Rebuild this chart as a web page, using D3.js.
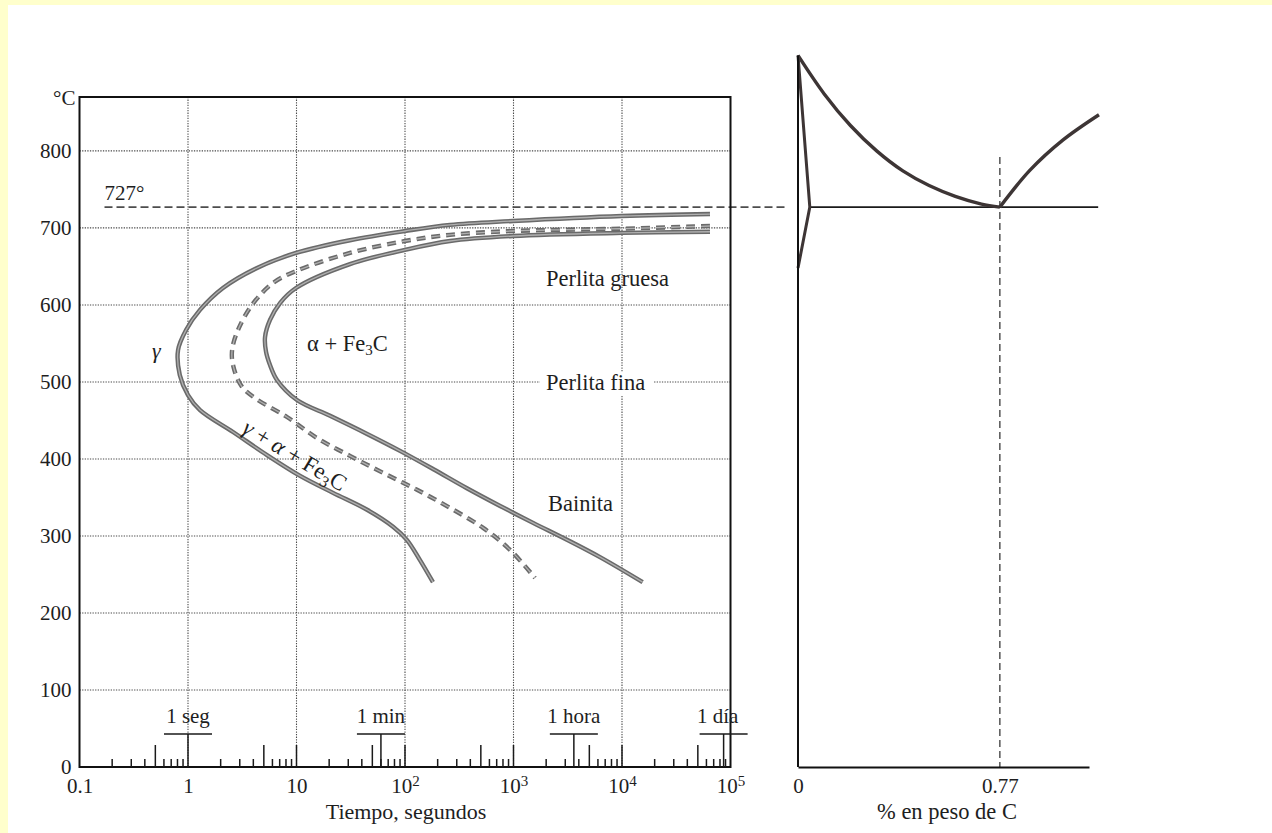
<!DOCTYPE html>
<html>
<head>
<meta charset="utf-8">
<script src="https://cdn.jsdelivr.net/npm/d3@7"></script>
<style>
  html, body { margin: 0; padding: 0; background: #ffffff; }
  svg { display: block; }
  text { font-family: "Liberation Serif", "DejaVu Serif", serif; fill: #1e1e1e; }
</style>
</head>
<body>
<svg id="chart" width="1272" height="833"></svg>
<script>
// ---------------- DATA ----------------
const timeTicks = [0.1, 1, 10, 100, 1000, 10000, 100000];
const timeTickBase = ["0.1", "1", "10", "10", "10", "10", "10"];
const timeTickExp = ["", "", "", "2", "3", "4", "5"];
const gridTimes = [1, 10, 100, 1000, 10000];
const decades = [0.1, 1, 10, 100, 1000, 10000];
const minorMultipliers = [2, 3, 4, 5, 6, 7, 8, 9];
const tempTicks = [0, 100, 200, 300, 400, 500, 600, 700, 800];
const gridTemps = [100, 200, 300, 400, 500, 600, 700, 800];
const markLabels = ["1 seg", "1 min", "1 hora", "1 día"];
const markTimes = [1, 60, 3600, 86400];
const eutectoidTemp = 727;

// TTT curves: [time (s), temperature (°C)]
const startCurve = [
  [64700, 718], [10000, 715.5], [989, 709], [260, 704], [100, 696], [31.1, 684],
  [9.9, 667.5], [4.33, 648], [2.1, 622], [1.29, 593.5], [0.96, 567.5], [0.81, 541.5],
  [0.84, 509], [1.0, 483], [1.29, 463.5], [2.6, 435], [5.35, 405], [10.8, 378],
  [21.7, 356], [44.7, 334], [77.6, 312], [104, 295], [137, 269], [181, 240]
];
const halfCurve = [
  [64700, 702.5], [10000, 699], [989, 696], [260, 691], [100, 683], [31.1, 667.5],
  [9.9, 644], [6.07, 628.5], [3.89, 600], [2.89, 567.5], [2.55, 541.5], [2.6, 522],
  [3.1, 495], [4.15, 479], [8.17, 454.5], [15.5, 427], [31.1, 404], [62.7, 382],
  [129, 360], [260, 336.5], [525, 310.5], [929, 282], [1578, 245.5]
];
const finishCurve = [
  [64700, 695], [10000, 693.5], [989, 689.5], [260, 683], [100, 671.5], [31.1, 653],
  [9.9, 622], [7.05, 602.5], [5.7, 580.5], [5.13, 558.5], [5.24, 539], [5.7, 522],
  [6.61, 502.5], [10.1, 476.5], [20.4, 456], [44.7, 432.5], [90, 410.5], [181, 387],
  [372, 362], [752, 339], [1514, 317], [3112, 295], [6266, 272.5], [15500, 240]
];

// Fe–C diagram: [wt % C, temperature (°C)]
const carbonTicks = [0, 0.77];
const carbonTickLabels = ["0", "0.77"];
const a3Curve = [
  [0, 924], [0.1, 874], [0.2, 833], [0.3, 800], [0.4, 774], [0.5, 755],
  [0.6, 741], [0.7, 731], [0.77, 727]
];
const acmCurve = [[0.77, 727], [0.885, 775], [1.01, 814], [1.148, 847]];
const alphaBoundary = [[0, 924], [0.045, 727], [0, 648]];
const eutectoidLine = [[0.045, 727], [1.145, 727]];
const eutectoidComp = 0.77;
const eutectoidDashTop = 792;

// ---------------- LAYOUT ----------------
const svg = d3.select("#chart");
svg.append("rect").attr("x", 0).attr("y", 0).attr("width", 1272).attr("height", 833).attr("fill", "#ffffcc");
svg.append("rect").attr("x", 8).attr("y", 5).attr("width", 1264).attr("height", 828).attr("fill", "#ffffff");

const x = d3.scaleLog().domain([0.1, 1e5]).range([79.5, 730.5]);
const y = d3.scaleLinear().domain([0, 870]).range([767, 97]);
const xR = d3.scaleLinear().domain([0, 1.11]).range([798, 1089]);

const plotL = x(0.1), plotR = x(1e5), plotT = y(870), plotB = y(0);

// grid
const grid = svg.append("g").attr("stroke", "#4a4a4a").attr("stroke-width", 1.1).attr("stroke-dasharray", "1.3,1.3");
grid.selectAll("line.h").data(gridTemps).join("line")
  .attr("x1", plotL).attr("x2", plotR).attr("y1", d => y(d)).attr("y2", d => y(d));
grid.selectAll("line.v").data(gridTimes).join("line")
  .attr("x1", d => x(d)).attr("x2", d => x(d)).attr("y1", plotT).attr("y2", plotB);

// 727 dashed line
svg.append("line")
  .attr("x1", x(0.17)).attr("x2", xR(-0.05))
  .attr("y1", y(eutectoidTemp)).attr("y2", y(eutectoidTemp))
  .attr("stroke", "#4d4d4d").attr("stroke-width", 1.6).attr("stroke-dasharray", "8,4");
svg.append("text").attr("x", x(0.17)).attr("y", y(eutectoidTemp) - 7)
  .attr("font-size", 21).text("727°");

// curves
const line = d3.line().x(d => x(d[0])).y(d => y(d[1])).curve(d3.curveCatmullRom.alpha(0.5));
function rope(data, dashed) {
  const g = svg.append("g").attr("fill", "none").attr("stroke-linecap", "butt");
  g.append("path").attr("d", line(data)).attr("stroke", "#6a6a6a").attr("stroke-width", 4.4)
    .attr("stroke-dasharray", dashed ? "9,6" : null);
  g.append("path").attr("d", line(data)).attr("stroke", "#b0b0b0").attr("stroke-width", 1.3)
    .attr("stroke-dasharray", dashed ? "9,6" : null);
}
rope(startCurve, false);
rope(halfCurve, true);
rope(finishCurve, false);

// frame
svg.append("rect").attr("x", plotL).attr("y", plotT).attr("width", plotR - plotL).attr("height", plotB - plotT)
  .attr("fill", "none").attr("stroke", "#111").attr("stroke-width", 2);

// left axis labels
const yAxis = svg.append("g").attr("transform", `translate(${plotL},0)`)
  .call(d3.axisLeft(y).tickValues(tempTicks).tickSize(0).tickPadding(8));
yAxis.select(".domain").remove();
yAxis.selectAll("text").attr("font-size", 21).attr("font-family", "Liberation Serif").attr("fill", "#1e1e1e");
svg.append("text").attr("x", plotL - 4).attr("y", plotT + 8).attr("text-anchor", "end")
  .attr("font-size", 21).text("°C");

// bottom axis labels
const xAxis = svg.append("g").attr("transform", `translate(0,${plotB})`)
  .call(d3.axisBottom(x).tickValues(timeTicks).tickSize(0).tickPadding(10).tickFormat(() => ""));
xAxis.select(".domain").remove();
xAxis.selectAll(".tick text").each(function(d, i) {
  const t = d3.select(this).attr("font-size", 21).attr("font-family", "Liberation Serif").attr("fill", "#1e1e1e").attr("dy", "0.75em");
  t.append("tspan").text(timeTickBase[i]);
  if (timeTickExp[i]) t.append("tspan").attr("dy", "-0.45em").attr("font-size", 15).text(timeTickExp[i]);
});
svg.append("text").attr("x", 406).attr("y", 819).attr("text-anchor", "middle")
  .attr("font-size", 22).text("Tiempo, segundos");

// minor ticks
const minor = [];
decades.forEach(dc => minorMultipliers.forEach(m => minor.push([dc * m, m === 5 ? 22 : 8])));
gridTimes.slice(1).forEach(t => minor.push([t, 22]));
svg.append("g").attr("stroke", "#1a1a1a").attr("stroke-width", 1.5)
  .selectAll("line").data(minor).join("line")
  .attr("x1", d => x(d[0])).attr("x2", d => x(d[0]))
  .attr("y1", plotB).attr("y2", d => plotB - d[1]);

// time marks (1 seg, 1 min, 1 hora, 1 día)
const marks = svg.append("g");
markTimes.forEach((t, i) => {
  const cx = x(t), barY = plotB - 33;
  marks.append("line").attr("x1", cx).attr("x2", cx).attr("y1", plotB).attr("y2", barY)
    .attr("stroke", "#1a1a1a").attr("stroke-width", 1.5);
  marks.append("line").attr("x1", cx - 24).attr("x2", cx + 24).attr("y1", barY).attr("y2", barY)
    .attr("stroke", "#1a1a1a").attr("stroke-width", 1.3);
  marks.append("text").attr("x", cx - (i === 3 ? 6 : 0)).attr("y", barY - 11).attr("text-anchor", "middle")
    .attr("font-size", 21).text(markLabels[i]);
});

// region labels
svg.append("text").attr("x", 152).attr("y", 358).attr("font-size", 22).attr("font-style", "italic").text("γ");
const af = svg.append("text").attr("x", 307).attr("y", 351).attr("font-size", 22.5);
af.append("tspan").text("α + Fe");
af.append("tspan").attr("font-size", 15).attr("dy", 4).text("3");
af.append("tspan").attr("dy", -4).text("C");
svg.append("text").attr("x", 546).attr("y", 286).attr("font-size", 22.5).text("Perlita gruesa");
const pf = svg.append("text").attr("x", 546).attr("y", 390).attr("font-size", 22.5).text("Perlita fina");
const bb = pf.node().getBBox();
svg.insert("rect", () => pf.node()).attr("x", bb.x - 6).attr("y", bb.y + 2).attr("width", bb.width + 14).attr("height", bb.height - 2).attr("fill", "#fff");
svg.append("text").attr("x", 548).attr("y", 511).attr("font-size", 22.5).text("Bainita");
const g3 = svg.append("text").attr("transform", "translate(241,432) rotate(31)").attr("font-size", 23);
g3.append("tspan").attr("font-style", "italic").text("γ");
g3.append("tspan").text(" + ");
g3.append("tspan").attr("font-style", "italic").text("α");
g3.append("tspan").text(" + Fe");
g3.append("tspan").attr("font-size", 16).attr("dy", 5).text("3");
g3.append("tspan").attr("dy", -5).text("C");

// ---------------- RIGHT: Fe–C diagram ----------------
const lineR = d3.line().x(d => xR(d[0])).y(d => y(d[1]));
const lineRc = d3.line().x(d => xR(d[0])).y(d => y(d[1])).curve(d3.curveCatmullRom.alpha(0.5));

svg.append("line").attr("x1", xR(eutectoidComp)).attr("x2", xR(eutectoidComp))
  .attr("y1", y(eutectoidDashTop)).attr("y2", plotB)
  .attr("stroke", "#3a3a3a").attr("stroke-width", 1.3).attr("stroke-dasharray", "7,4");

svg.append("path").attr("d", lineR(eutectoidLine)).attr("fill", "none").attr("stroke", "#1a1a1a").attr("stroke-width", 1.6);
svg.append("path").attr("d", lineRc(a3Curve)).attr("fill", "none").attr("stroke", "#3d3535").attr("stroke-width", 3.4);
svg.append("path").attr("d", lineRc(acmCurve)).attr("fill", "none").attr("stroke", "#3d3535").attr("stroke-width", 3.4);
svg.append("path").attr("d", lineR(alphaBoundary)).attr("fill", "none").attr("stroke", "#3d3535").attr("stroke-width", 3).attr("stroke-linejoin", "miter");

// right axes
svg.append("line").attr("x1", xR(0)).attr("x2", xR(0)).attr("y1", y(924)).attr("y2", plotB)
  .attr("stroke", "#111").attr("stroke-width", 2);
const xAxisR = svg.append("g").attr("transform", `translate(0,${plotB})`)
  .call(d3.axisBottom(xR).tickValues(carbonTicks).tickSize(0).tickPadding(10).tickFormat((d, i) => carbonTickLabels[i]));
xAxisR.select(".domain").attr("stroke", "#111").attr("stroke-width", 2);
xAxisR.selectAll("text").attr("font-size", 21).attr("font-family", "Liberation Serif").attr("fill", "#1e1e1e").attr("dy", "0.75em");
svg.append("text").attr("x", 947).attr("y", 819).attr("text-anchor", "middle").attr("font-size", 22.5).text("% en peso de C");
</script>
</body>
</html>
